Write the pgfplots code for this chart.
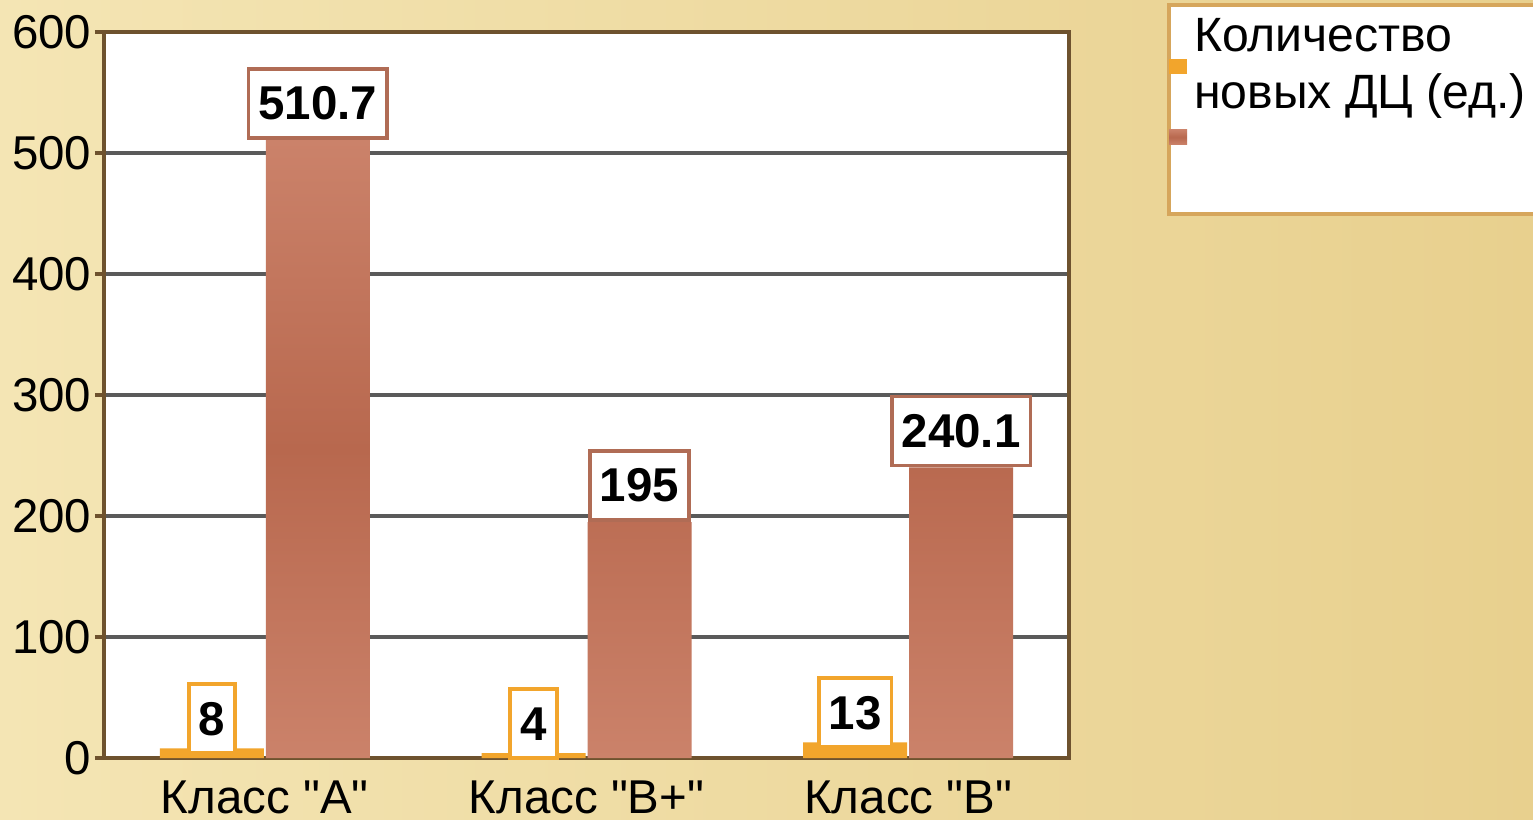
\documentclass[border=0pt]{standalone}
\usepackage{fontspec}
\setmainfont{Liberation Sans}[Ligatures=TeXOff]
\usepackage{pgfplots}
\pgfplotsset{compat=1.18}
\definecolor{bgLight}{HTML}{F4E5B4}
\definecolor{bgDark}{HTML}{E8D08E}
\definecolor{barOrange}{HTML}{F2A52C}
\definecolor{brownLight}{HTML}{DE9C86}
\definecolor{brownDark}{HTML}{B8684E}
\definecolor{axisBrown}{HTML}{6E522E}
\definecolor{gridGray}{HTML}{5A5A5A}
\definecolor{legendEdge}{HTML}{D6A65C}
\pgfdeclareverticalshading{brownbar}{100bp}{color(0bp)=(brownLight); color(50bp)=(brownDark); color(100bp)=(brownLight)}

\begin{document}
\begin{tikzpicture}
% page background and legend frame (pixel grid: 1px = 0.01cm)
\shade[left color=bgLight, right color=bgDark] (0,0) rectangle (15.33,8.19);
\useasboundingbox (0,0) rectangle (15.33,8.19);
\filldraw[fill=white, draw=legendEdge, line width=1.2pt] (11.69,8.14) rectangle (15.70,6.05);

\begin{axis}[
    scale only axis,
    width=9.65cm, height=7.26cm,
    at={(1.04cm,0.61cm)}, anchor=south west,
    axis background/.style={fill=white},
    xmin=-0.5, xmax=2.5,
    ymin=0, ymax=600,
    ytick={0,100,...,600},
    xtick={0,1,2},
    xticklabels={Класс "A", Класс "B+", Класс "B"},
    major x tick style={draw=none},
    extra x ticks={0.5,1.5,2.5},
    extra x tick labels={},
    extra x tick style={grid=none, major tick length=0.12cm, tick style={draw=axisBrown, line width=1pt}},
    tick align=outside,
    tick pos=left,
    major tick length=0.09cm,
    y tick style={draw=axisBrown, line width=1pt},
    ymajorgrids=true,
    grid style={gridGray, line width=1pt},
    axis line style={axisBrown, line width=1.3pt},
    /pgf/number format/assume math mode=true,
    yticklabel style={font=\fontsize{13.5}{16}\selectfont, text=black, xshift=2.5pt},
    xticklabel style={font=\fontsize{13.5}{16}\selectfont, text=black, yshift=-0.5pt},
    legend style={
        at={(1.103,1.029)}, anchor=north west,
        draw=none, fill=none,
        font=\fontsize{13.7}{16}\selectfont,
        cells={align=left},
        inner sep=0pt,
        row sep=2pt,
    },
    legend cell align=left,
    legend image code/.code={\fill (-0.03cm,-0.075cm) rectangle (0.15cm,0.075cm);},
    nodes near coords,
    every node near coord/.append style={
        fill=white, text=black, line width=1.1pt,
        font=\bfseries\fontsize{13.5}{15}\selectfont,
        inner xsep=0.1cm, minimum height=0.69cm, anchor=south,
        /pgf/number format/fixed, /pgf/number format/precision=1,
        /pgf/number format/assume math mode=true,
    },
]
\addplot[ybar, bar width=1.04cm, bar shift=-0.53cm, fill=barOrange, draw=none,
    every node near coord/.append style={draw=barOrange, xshift=-0.53cm, yshift=-2pt}]
    coordinates {(0,8) (1,4) (2,13)};
\addlegendentry{Количество\\новых ДЦ (ед.)}
\addplot[ybar, bar width=1.04cm, bar shift=0.53cm, shading=brownbar, shade, draw=none,
    every node near coord/.append style={draw=brownDark!85!gray, xshift=0.53cm}]
    coordinates {(0,510.7) (1,195) (2,240.1)};
\addlegendentry{}
\end{axis}
\end{tikzpicture}
\end{document}
